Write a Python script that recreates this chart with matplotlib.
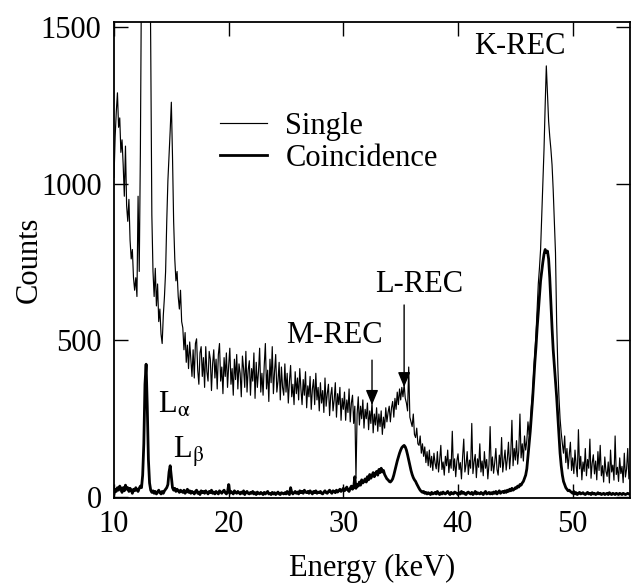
import numpy as np
import matplotlib
matplotlib.use("Agg")
import matplotlib.pyplot as plt
from matplotlib.lines import Line2D

plt.rcParams["font.family"] = ["Liberation Serif", "DejaVu Serif"]
plt.rcParams["font.size"] = 22
plt.rcParams["mathtext.fontset"] = "stix"

# channel grid: 10.0 keV, 0.1 keV per channel
E_START = 10.0
E_STEP = 0.1

# single spectrum (counts per channel)
single = [
    1020, 1150, 1230, 1290, 1180, 1210, 1100, 1140, 1060, 960,   # 10
    1120, 930, 880, 950, 820, 760, 790, 700, 660, 700,           # 11
    640, 960, 720, 1100, 1700, 2600, 3400, 3900, 3900, 3300,     # 12
    2600, 1900, 1450, 900, 720, 640, 730, 610, 680, 560,         # 13
    600, 520, 490, 580, 640, 720, 880, 1010, 1090, 1170,         # 14
    1260, 1090, 880, 760, 690, 720, 640, 600, 660, 560,          # 15
    540, 470, 525, 430, 485, 410, 495, 440, 385, 470,            # 16
    380, 490, 505, 405, 360, 460, 480, 385, 445, 350,            # 17
    480, 400, 370, 465, 440, 340, 425, 470, 380, 440,            # 18
    345, 455, 490, 370, 415, 330, 445, 385, 460, 350,            # 19
    420, 475, 360, 410, 325, 440, 375, 455, 345, 425,            # 20
    395, 320, 450, 410, 350, 465, 335, 405, 435, 325,            # 21
    410, 370, 460, 315, 430, 350, 400, 475, 335, 395,            # 22
    325, 420, 490, 345, 405, 305, 440, 365, 480, 330,            # 23
    400, 455, 335, 370, 430, 310, 415, 350, 325, 425,            # 24
    335, 395, 300, 370, 420, 320, 360, 295, 400, 330,            # 25
    380, 310, 410, 345, 295, 375, 325, 400, 285, 355,            # 26
    320, 385, 280, 345, 375, 295, 395, 310, 350, 275,            # 27
    365, 300, 340, 270, 380, 290, 330, 360, 260, 325,            # 28
    350, 275, 310, 365, 255, 330, 295, 350, 245, 315,            # 29
    280, 335, 245, 310, 270, 345, 240, 300, 325, 235,            # 30
    290, 60, 265, 320, 230, 290, 250, 310, 220, 280,             # 31
    250, 300, 215, 275, 235, 305, 205, 265, 230, 285,            # 32
    210, 265, 225, 275, 200, 255, 220, 285, 240, 270,            # 33
    290, 240, 285, 305, 255, 315, 280, 335, 295, 345,            # 34
    310, 350, 320, 360, 315, 300, 275, 415, 255, 240,            # 35
    225, 265, 200, 190, 220, 170, 165, 195, 140, 170,            # 36
    130, 160, 110, 145, 100, 150, 95, 130, 85, 140,              # 37
    108, 90, 145, 80, 118, 165, 88, 112, 70, 130,                # 38
    100, 150, 78, 120, 92, 210, 85, 122, 65, 115,                # 39
    138, 88, 110, 58, 128, 185, 80, 104, 145, 72,                # 40
    118, 92, 235, 75, 112, 136, 62, 122, 95, 170,                # 41
    80, 115, 68, 145, 92, 120, 58, 104, 225, 84,                 # 42
    128, 76, 110, 155, 88, 70, 134, 95, 190, 80,                 # 43
    115, 150, 86, 122, 175, 90, 138, 245, 100, 155,              # 44
    118, 180, 105, 148, 265, 125, 170, 115, 195, 150,            # 45
    180, 240, 200, 230, 290, 330, 400, 460, 520, 600,            # 46
    680, 730, 790, 900, 1000, 1110, 1250, 1376, 1290, 1200,      # 47
    1150, 1110, 1060, 980, 880, 780, 560, 420, 320, 250,         # 48
    205, 170, 140, 195, 110, 155, 90, 135, 175, 85,              # 49
    125, 75, 150, 100, 65, 215, 90, 130, 55, 112,                # 50
    82, 155, 68, 120, 92, 185, 60, 108, 135, 74,                 # 51
    115, 55, 145, 85, 165, 68, 100, 48, 128, 82,                 # 52
    66, 112, 45, 150, 80, 102, 54, 195, 72, 95,                  # 53
    50, 125, 75, 98, 46, 140, 64, 90, 155, 58,                   # 54
    80,
]

# coincidence spectrum
coinc = [
    10, 25, 18, 30, 22, 35, 28, 15, 30, 20,          # 10
    38, 25, 30, 18, 28, 22, 12, 25, 20, 30,          # 11
    22, 18, 28, 35, 30, 70, 170, 360, 424, 290,      # 12
    120, 45, 22, 15, 20, 12, 18, 10, 15, 22,         # 13
    15, 10, 18, 12, 20, 25, 30, 40, 80, 100,         # 14
    65, 30, 22, 28, 18, 25, 20, 15, 22, 18,          # 15
    15, 22, 12, 18, 25, 15, 20, 12, 18, 15,          # 16
    10, 18, 22, 12, 16, 8, 20, 14, 18, 12,           # 17
    20, 15, 10, 18, 14, 22, 12, 16, 10, 18,          # 18
    14, 10, 20, 16, 12, 18, 22, 14, 10, 16,          # 19
    40, 12, 18, 14, 10, 20, 15, 12, 18, 14,          # 20
    10, 16, 12, 20, 8, 15, 18, 12, 10, 15,           # 21
    12, 18, 10, 14, 8, 16, 12, 10, 15, 12,           # 22
    8, 15, 10, 14, 18, 10, 12, 8, 15, 10,            # 23
    14, 8, 12, 16, 10, 8, 14, 12, 10, 14,            # 24
    10, 18, 12, 8, 30, 15, 10, 14, 18, 12,           # 25
    16, 10, 20, 14, 18, 12, 22, 16, 14, 18,          # 26
    12, 20, 15, 10, 18, 14, 20, 12, 16, 14,          # 27
    18, 12, 10, 16, 20, 14, 12, 18, 22, 16,          # 28
    12, 20, 18, 14, 22, 16, 20, 25, 18, 22,          # 29
    28, 20, 25, 32, 22, 18, 28, 35, 25, 30,          # 30
    65, 28, 40, 35, 48, 38, 55, 45, 50, 58,          # 31
    48, 65, 55, 72, 60, 68, 78, 65, 75, 82,          # 32
    70, 88, 78, 92, 80, 85, 72, 65, 58, 55,          # 33
    50, 48, 52, 58, 70, 85, 100, 115, 128, 140,      # 34
    150, 158, 162, 165, 160, 150, 135, 118, 100, 85, # 35
    72, 62, 55, 50, 42, 35, 28, 22, 18, 15,          # 36
    18, 12, 15, 10, 14, 12, 8, 15, 10, 12,           # 37
    15, 10, 18, 12, 8, 14, 10, 16, 12, 10,           # 38
    14, 18, 12, 8, 15, 12, 10, 16, 14, 12,           # 39
    8, 14, 10, 18, 12, 15, 10, 8, 14, 16,            # 40
    12, 10, 15, 8, 12, 18, 10, 14, 12, 10,           # 41
    15, 12, 8, 14, 18, 10, 12, 15, 10, 14,           # 42
    10, 16, 12, 18, 10, 15, 20, 12, 16, 18,          # 43
    14, 20, 15, 22, 18, 25, 20, 28, 22, 25,          # 44
    30, 28, 35, 32, 40, 38, 45, 50, 60, 70,          # 45
    90, 130, 170, 210, 260, 310, 370, 430, 480, 540, # 46
    590, 640, 690, 720, 750, 775, 790, 780, 785, 760,# 47
    700, 620, 540, 470, 420, 370, 320, 260, 200, 140,# 48
    100, 70, 50, 40, 30, 25, 20, 22, 18, 15,         # 49
    12, 18, 10, 14, 8, 12, 15, 10, 12, 14,           # 50
    10, 8, 12, 15, 10, 12, 8, 14, 10, 12,            # 51
    8, 10, 14, 10, 12, 8, 10, 12, 8, 10,             # 52
    12, 8, 14, 10, 8, 12, 10, 8, 12, 10,             # 53
    8, 12, 10, 8, 12, 10, 8, 10, 12, 10,             # 54
]

energy_s = E_START + E_STEP * np.arange(len(single))
energy_c = E_START + E_STEP * np.arange(len(coinc))

x_ticks = [10, 20, 30, 40, 50]
y_ticks = [0, 500, 1000, 1500]

fig = plt.figure(figsize=(6.33, 5.87), dpi=100)
ax = fig.add_axes([0.1801, 0.1516, 0.8152, 0.8109])

ax.plot(energy_s, single, color="black", lw=0.85)
ax.plot(energy_c, coinc, color="black", lw=2.0)

ax.set_xlim(10, 55)
ax.set_ylim(-3, 1516)
ax.set_xticks(x_ticks)
ax.set_yticks(y_ticks)
ax.tick_params(direction="in", length=10, width=1.0, top=True, right=True,
               labelsize=22, pad=9)
ax.tick_params(axis="x", pad=8.5)
for sp in ax.spines.values():
    sp.set_linewidth(1.3)

ax.set_xlabel("Energy (keV)", fontsize=22, labelpad=11)
ax.set_ylabel("Counts", fontsize=22, labelpad=-2)

# peak labels
ax.text(45.4, 1439, "K-REC", ha="center", va="center", fontsize=22)
ax.text(36.6, 677, "L-REC", ha="center", va="center", fontsize=22)
ax.text(29.2, 517, "M-REC", ha="center", va="center", fontsize=22)
arrow = dict(arrowstyle="-|>,head_length=0.6,head_width=0.25", color="black",
             lw=1.0, mutation_scale=15, shrinkA=0, shrinkB=0)
ax.annotate("", xy=(35.3, 351), xytext=(35.3, 613), arrowprops=arrow)
ax.annotate("", xy=(32.5, 294), xytext=(32.5, 437), arrowprops=arrow)
ax.text(13.83, 268, r"L$_\mathrm{\alpha}$", ha="left", va="baseline", fontsize=22)
ax.text(15.13, 124, r"L$_\mathrm{\beta}$", ha="left", va="baseline", fontsize=22)

handles = [Line2D([], [], color="black", lw=0.85),
           Line2D([], [], color="black", lw=2.0)]
ax.legend(handles, ["Single", "Coincidence"], loc="upper left",
          bbox_to_anchor=(0.205, 0.812), frameon=False, fontsize=22,
          handlelength=1.55, handletextpad=0.6, labelspacing=0.1,
          borderpad=0, borderaxespad=0)

fig.savefig("out.png", dpi=100)
